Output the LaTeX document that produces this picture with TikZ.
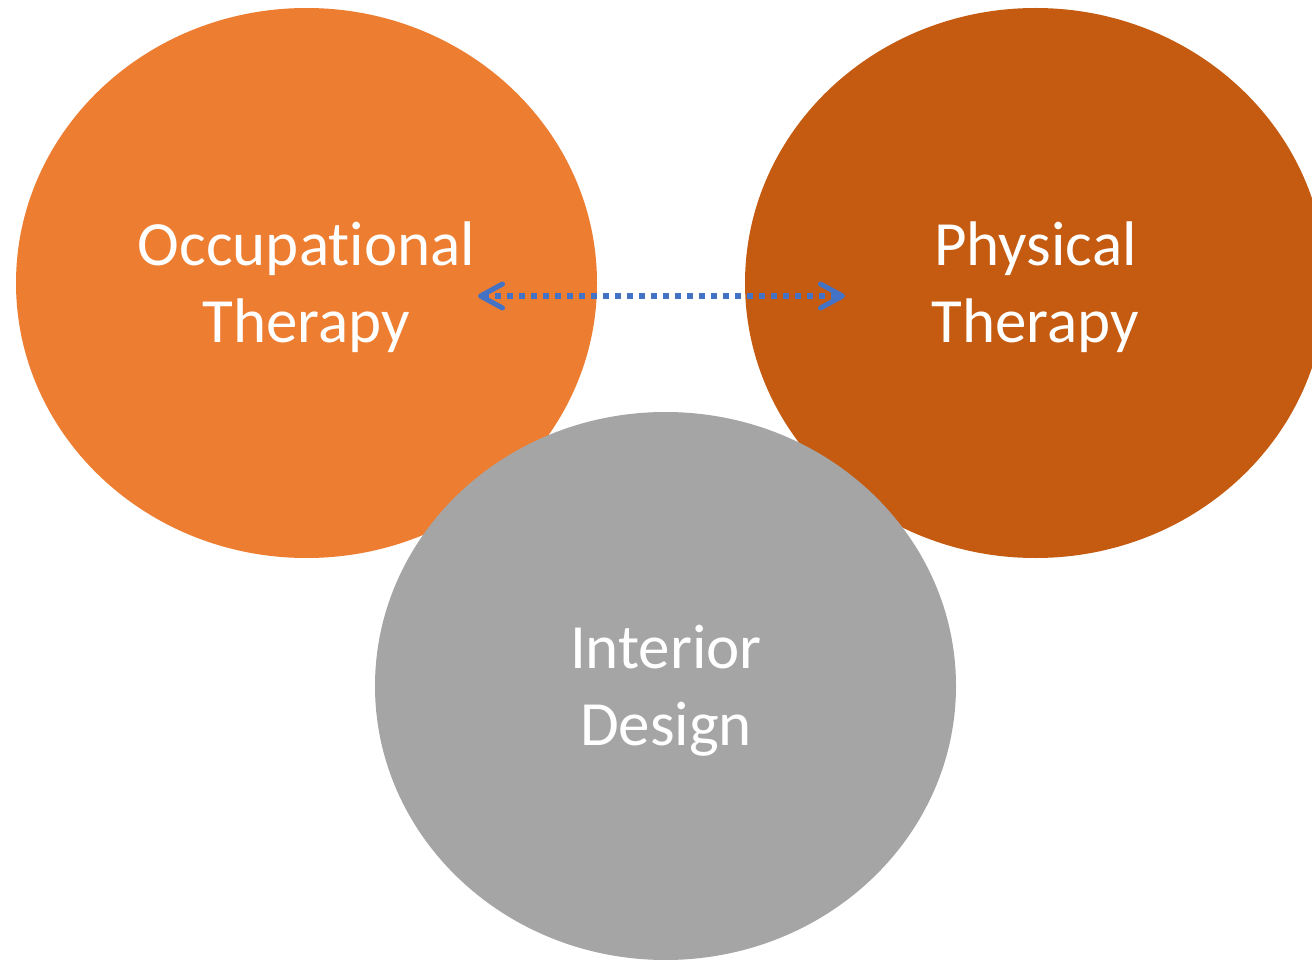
\documentclass[tikz,border=0pt]{standalone}
\usepackage{fontspec}
\setmainfont[Ligatures={NoCommon}]{Carlito}
\usetikzlibrary{shapes.geometric,arrows.meta}
\definecolor{otorange}{HTML}{ED7D31}
\definecolor{ptorange}{HTML}{C55A11}
\definecolor{idgray}{HTML}{A5A5A5}
\definecolor{arrowblue}{HTML}{4472C4}
\tikzset{
  blob/.style={ellipse, inner sep=0pt, minimum width=581pt, minimum height=550pt, draw=none},
  label text/.style={text=white, align=center, font=\fontsize{63}{77}\selectfont, inner sep=0pt},
  link/.style={arrowblue, line width=5.5pt, dash pattern=on 6pt off 6pt,
    {Straight Barb[length=22pt, width=24pt, line width=5pt, line cap=round, line join=round]}-{Straight Barb[length=22pt, width=24pt, line width=5pt, line cap=round, line join=round]}}
}
\begin{document}
\begin{tikzpicture}[x=1pt, y=-1pt]
\useasboundingbox (0,0) rectangle (1312,960);
\begin{scope}
\clip (0,0) rectangle (1312,960);
\node[blob, fill=otorange] (ot) at (306.5,283) {};
\node[blob, fill=ptorange] (pt) at (1035.5,283) {};
\node[blob, fill=idgray, minimum height=548pt] (id) at (665.5,686) {};
\end{scope}
\node[label text] (otl) at (306.5,287) {Occupational\\Therapy};
\node[label text] (ptl) at (1035.5,287) {Physical\\Therapy};
\node[label text] (idl) at (666,691) {Interior\\Design};
\coordinate (aL) at (478,296);
\coordinate (aR) at (845,296);
\draw[link] (aL) -- (aR);
\end{tikzpicture}
\end{document}
